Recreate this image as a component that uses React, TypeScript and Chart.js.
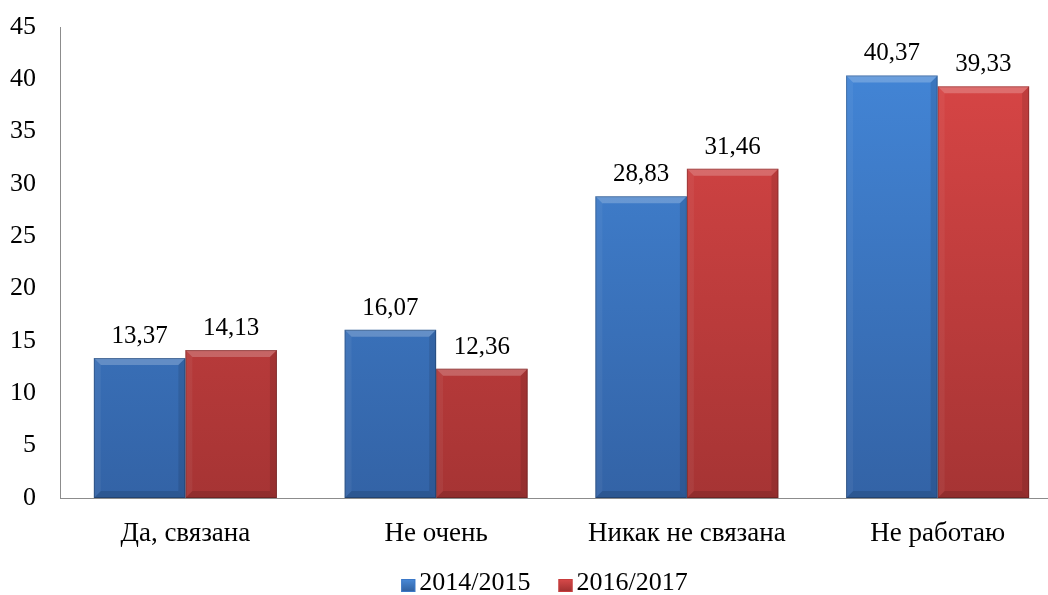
import React, { useEffect, useRef } from "react";
import { Chart, registerables } from "chart.js";

Chart.register(...registerables);

const categories = ["Да, связана", "Не очень", "Никак не связана", "Не работаю"];
const series2014 = [13.37, 16.07, 28.83, 40.37];
const series2016 = [14.13, 12.36, 31.46, 39.33];
const seriesNames = ["2014/2015", "2016/2017"];
const yMax = 45;
const yStep = 5;

const FONT = "'Liberation Serif', 'Times New Roman', serif";
const legendColors = ["#3b78c8", "#c83c3c"];

const fmt = (v: number) => v.toFixed(2).replace(".", ",");

function makeGrad(ctx: CanvasRenderingContext2D, area: any, top: string, bottom: string) {
  const g = ctx.createLinearGradient(0, area.top, 0, area.bottom);
  g.addColorStop(0, top);
  g.addColorStop(1, bottom);
  return g;
}

const bevelPlugin = {
  id: "bevel",
  afterDatasetsDraw(chart: any) {
    const ctx = chart.ctx as CanvasRenderingContext2D;
    chart.data.datasets.forEach((ds: any, di: number) => {
      const meta = chart.getDatasetMeta(di);
      meta.data.forEach((bar: any, i: number) => {
        const p = bar.getProps(["x", "y", "base", "width"], true);
        const l = p.x - p.width / 2;
        const r = p.x + p.width / 2;
        const t = p.y;
        const b = p.base;
        const s = 7;
        ctx.save();
        ctx.fillStyle = "rgba(255,255,255,0.22)";
        ctx.beginPath();
        ctx.moveTo(l, t); ctx.lineTo(r, t); ctx.lineTo(r - s, t + s); ctx.lineTo(l + s, t + s); ctx.closePath(); ctx.fill();
        ctx.fillStyle = "rgba(255,255,255,0.05)";
        ctx.beginPath();
        ctx.moveTo(l, t); ctx.lineTo(l + s, t + s); ctx.lineTo(l + s, b - s); ctx.lineTo(l, b); ctx.closePath(); ctx.fill();
        ctx.fillStyle = "rgba(0,0,0,0.10)";
        ctx.beginPath();
        ctx.moveTo(r, t); ctx.lineTo(r - s, t + s); ctx.lineTo(r - s, b - s); ctx.lineTo(r, b); ctx.closePath(); ctx.fill();
        ctx.fillStyle = "rgba(0,0,0,0.12)";
        ctx.beginPath();
        ctx.moveTo(l, b); ctx.lineTo(r, b); ctx.lineTo(r - s, b - s); ctx.lineTo(l + s, b - s); ctx.closePath(); ctx.fill();
        ctx.strokeStyle = "rgba(0,0,0,0.22)";
        ctx.lineWidth = 1;
        ctx.strokeRect(l + 0.5, t + 0.5, p.width - 1, b - t - 1);
        ctx.restore();

        ctx.save();
        ctx.fillStyle = "#000";
        ctx.font = `25px ${FONT}`;
        ctx.textAlign = "center";
        ctx.textBaseline = "alphabetic";
        ctx.fillText(fmt(ds.data[i]), p.x, t - 15);
        ctx.restore();
      });
    });
  },
  afterDraw(chart: any) {
    const ctx = chart.ctx as CanvasRenderingContext2D;
    const a = chart.chartArea;
    ctx.save();
    ctx.font = `26px ${FONT}`;
    ctx.textBaseline = "alphabetic";
    const box = 14;
    const boxH = 13;
    const gap = 4;
    const itemGap = 28;
    const items = chart.data.datasets.map((d: any) => d.label as string);
    const widths = items.map((t: string) => box + gap + ctx.measureText(t).width);
    const total = widths.reduce((s: number, w: number) => s + w, 0) + itemGap * (items.length - 1);
    let x = (a.left + a.right) / 2 - 17 - total / 2;
    const baseline = 590;
    items.forEach((t: string, i: number) => {
      const c = legendColors[i];
      const g = ctx.createLinearGradient(0, baseline + 2 - boxH, 0, baseline + 2);
      g.addColorStop(0, i === 0 ? "#4a8ad8" : "#d84a4a");
      g.addColorStop(1, i === 0 ? "#2f5f9e" : "#9e2f2f");
      ctx.fillStyle = g;
      ctx.fillRect(x, baseline + 2 - boxH, box, boxH);
      ctx.strokeStyle = c;
      ctx.lineWidth = 1;
      ctx.strokeRect(x + 0.5, baseline + 2 - boxH + 0.5, box - 1, boxH - 1);
      ctx.fillStyle = "#000";
      ctx.textAlign = "left";
      ctx.fillText(t, x + box + gap, baseline);
      x += widths[i] + itemGap;
    });
    ctx.restore();
  },
};

export default function App() {
  const ref = useRef<HTMLCanvasElement>(null);
  useEffect(() => {
    const canvas = ref.current;
    if (!canvas) return;
    const chart = new Chart(canvas, {
      type: "bar",
      data: {
        labels: categories,
        datasets: [
          {
            label: seriesNames[0],
            data: series2014,
            backgroundColor: (c: any) => {
              const a = c.chart.chartArea;
              if (!a) return "#3d7dcf";
              return makeGrad(c.chart.ctx, a, "#4488da", "#3363a6");
            },
            borderWidth: 0,
          },
          {
            label: seriesNames[1],
            data: series2016,
            backgroundColor: (c: any) => {
              const a = c.chart.chartArea;
              if (!a) return "#d34040";
              return makeGrad(c.chart.ctx, a, "#dc4747", "#a63434");
            },
            borderWidth: 0,
          },
        ],
      },
      options: {
        animation: false,
        responsive: true,
        maintainAspectRatio: false,
        layout: { padding: { top: 27, right: 7, left: 0, bottom: 47 } },
        datasets: { bar: { barPercentage: 1, categoryPercentage: 0.73 } },
        scales: {
          x: {
            grid: { display: false },
            border: { display: true, color: "#8c8c8c", width: 1 },
            ticks: { color: "#000", font: { family: FONT, size: 27 }, padding: 12 },
            afterFit: (s: any) => {
              s.height = 50;
              s.paddingLeft = 0;
              s.paddingRight = 0;
            },
          },
          y: {
            min: 0,
            max: yMax,
            grid: { display: false, drawTicks: false },
            border: { display: true, color: "#8c8c8c", width: 1 },
            ticks: {
              stepSize: yStep,
              color: "#000",
              font: { family: FONT, size: 26 },
              padding: 24,
            },
            afterFit: (s: any) => {
              s.width = 60;
              s.paddingTop = 0;
              s.paddingBottom = 0;
            },
          },
        },
        plugins: {
          legend: { display: false },
          tooltip: { enabled: false },
        },
      },
      plugins: [bevelPlugin],
    });
    return () => chart.destroy();
  }, []);
  return (
    <div style={{ position: "fixed", left: 0, top: 0, width: 1048, height: 595, overflow: "hidden", background: "#fff" }}>
      <div style={{ position: "absolute", left: 0, top: 0, width: 1070, height: 595 }}>
        <canvas ref={ref} />
      </div>
    </div>
  );
}
